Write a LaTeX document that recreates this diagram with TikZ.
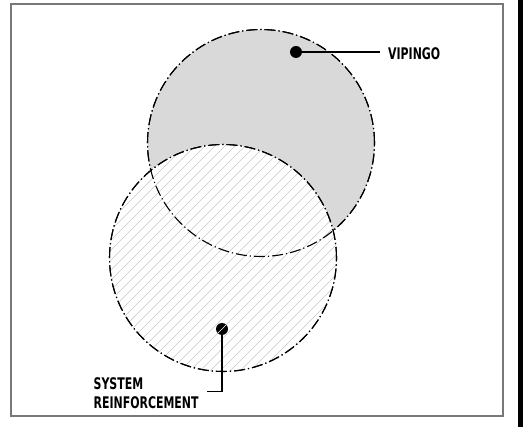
\documentclass[tikz,border=0pt]{standalone}
\usepackage{fontspec}
\setsansfont{DejaVu Sans Condensed}[FakeStretch=0.76]
\usetikzlibrary{positioning,calc}

\definecolor{zonegrey}{RGB}{217,217,217}
\definecolor{hatchgrey}{RGB}{200,200,200}
\definecolor{framegrey}{RGB}{120,120,120}

\tikzset{
	zone/.style={
		circle,
		inner sep=0pt,
		minimum size=227pt,
		draw=black,
		line width=1.1pt,
		dash pattern=on 11pt off 3pt on 1.2pt off 3pt
	},
	hatchline/.style={draw=hatchgrey, line width=0.7pt, solid},
	marker/.style={circle, fill=black, inner sep=0pt, minimum size=12pt},
	callout/.style={font=\sffamily\bfseries\fontsize{16}{19}\selectfont,
		inner sep=0pt, align=left},
	leader/.style={line width=1.5pt}
}

\begin{document}
\begin{tikzpicture}[x=1pt,y=-1pt]
	
	\useasboundingbox (0,0) rectangle (525,427);
	
	% sheet frame
	\draw[framegrey, line width=1.5pt] (11,4) rectangle (503,416);
	\fill[black] (518,0) rectangle (523,427);
	
	% upper zone
	\node[zone, fill=zonegrey] (vipzone) at (261,143) {};
	
	% lower zone, hatched
	\node[zone, fill=white,
		path picture={
			\foreach \k in {-30,...,30}
			\draw[hatchline] ($(path picture bounding box.center)+(\k*10-130,130)$) -- ++(260,-260);
		}] (syszone) at (223,258) {};
	
	% outlines on top
	\node[zone] at (vipzone) {};
	\node[zone] at (syszone) {};
	
	\node[marker] (vipdot) at (296,52) {};
	\node[marker] (sysdot) at (222,329) {};
	
	% hatch over the lower marker
	\begin{scope}
		\clip (sysdot) circle (6pt);
		\foreach \k in {-2,...,2}
		\draw[hatchline, draw=white] ($(sysdot)+(\k*10-10,10)$) -- ++(20,-20);
	\end{scope}
	
	\node[callout, anchor=west] (viplabel) at (388,53.5) {VIPINGO};
	\node[callout, anchor=north west] (syslabel) at (93.5,377) {SYSTEM\\REINFORCEMENT};
	
	\coordinate (vipend) at (380,52);
	\coordinate (sysbend) at (222,391.5);
	\coordinate (sysend) at (207,391.5);
	
	\draw[leader] (vipdot) -- (vipend);
	\draw[leader] (sysdot) -- (sysbend) -- (sysend);
	
\end{tikzpicture}
\end{document}
